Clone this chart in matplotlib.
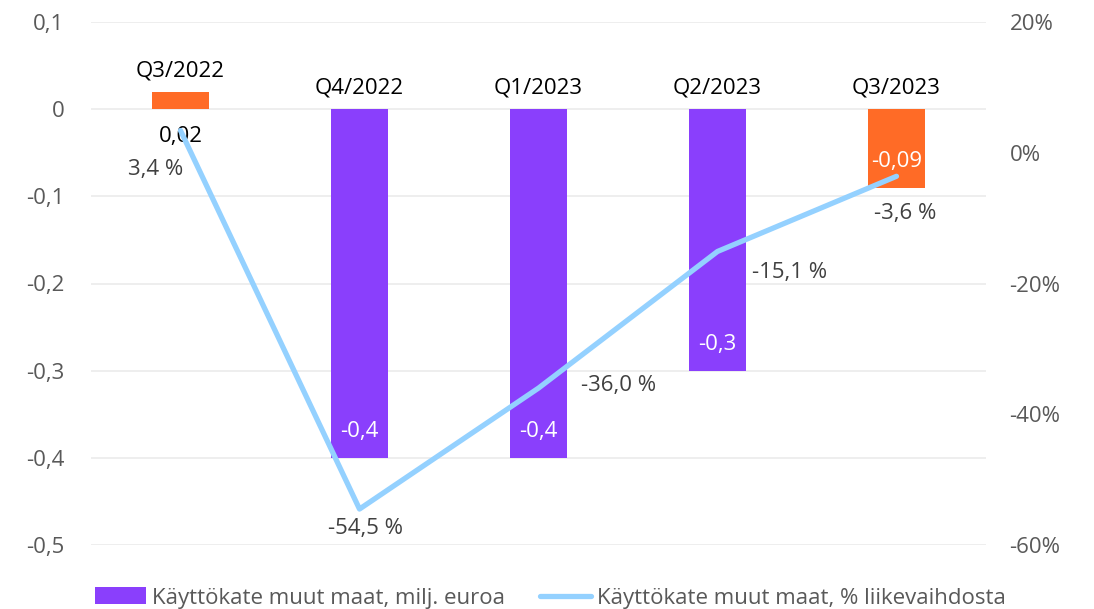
import matplotlib
matplotlib.use("Agg")
import matplotlib.pyplot as plt
from matplotlib.patches import Patch
from matplotlib.lines import Line2D
import numpy as np

categories = ["Q3/2022", "Q4/2022", "Q1/2023", "Q2/2023", "Q3/2023"]
ebitda_meur = [0.02, -0.4, -0.4, -0.3, -0.09]
ebitda_labels = ["0,02", "-0,4", "-0,4", "-0,3", "-0,09"]
ebitda_pct = [3.4, -54.5, -36.0, -15.1, -3.6]
pct_labels = ["3,4 %", "-54,5 %", "-36,0 %", "-15,1 %", "-3,6 %"]
bar_colors = ["#FF6B26", "#8A3FFC", "#8A3FFC", "#8A3FFC", "#FF6B26"]
left_ticks = [0.1, 0, -0.1, -0.2, -0.3, -0.4, -0.5]
left_ticklabels = ["0,1", "0", "-0,1", "-0,2", "-0,3", "-0,4", "-0,5"]
right_ticks = [20, 0, -20, -40, -60]
right_ticklabels = ["20%", "0%", "-20%", "-40%", "-60%"]
legend_labels = ["Käyttökate muut maat, milj. euroa", "Käyttökate muut maat, % liikevaihdosta"]

plt.rcParams['font.family'] = ['Open Sans', 'DejaVu Sans']
LINE_COLOR = "#94D1FF"
TICK_COLOR = "#595959"
FS = 16

fig = plt.figure(figsize=(10.94, 6.09), dpi=100)
ax = fig.add_axes([91/1094, 1 - 545/609, (986 - 91)/1094, (545 - 22)/609])
x = np.arange(len(categories))
ax.bar(x, ebitda_meur, width=0.315, color=bar_colors, zorder=2)
ax.set_ylim(-0.5, 0.1)
ax.set_xlim(-0.5, len(categories) - 0.5)
ax.set_yticks(left_ticks)
ax.set_yticklabels(left_ticklabels)
ax.set_xticks([])
ax.tick_params(axis='y', length=0, labelsize=FS, labelcolor=TICK_COLOR, pad=19)
ax.grid(axis='y', color="#EBEBEB", linewidth=1.2, zorder=0)
ax.set_axisbelow(True)
for s in ax.spines.values():
    s.set_visible(False)

# category labels above the zero line / bar
for i, (c, v) in enumerate(zip(categories, ebitda_meur)):
    ax.annotate(c, (i, max(v, 0)), xytext=(0, 15 if v > 0 else 15), textcoords='offset points',
                ha='center', va='center', fontsize=FS, color='black')

# bar value labels
for i, (v, lab) in enumerate(zip(ebitda_meur, ebitda_labels)):
    if v > 0:
        ax.annotate(lab, (i, 0), xytext=(0, -20), textcoords='offset points',
                    ha='center', va='center', fontsize=FS, color='black', zorder=5)
    else:
        ax.annotate(lab, (i, v), xytext=(0, 19), textcoords='offset points',
                    ha='center', va='center', fontsize=FS, color='white', zorder=5)

ax2 = ax.twinx()
ax2.set_ylim(-60, 20)
ax2.plot(x, ebitda_pct, color=LINE_COLOR, linewidth=3.8, solid_capstyle='round', zorder=3)
ax2.set_yticks(right_ticks)
ax2.set_yticklabels(right_ticklabels)
ax2.tick_params(axis='y', length=0, labelsize=FS, labelcolor=TICK_COLOR, pad=17)
for s in ax2.spines.values():
    s.set_visible(False)

offsets = [(-18, -28), (4, -14), (58, 2), (52, -15), (6, -27)]
for i, (v, lab) in enumerate(zip(ebitda_pct, pct_labels)):
    ax2.annotate(lab, (i, v), xytext=offsets[i], textcoords='offset points',
                 ha='center', va='center', fontsize=FS, color="#404040")

handles = [Patch(facecolor="#8A3FFC"), Line2D([0], [0], color=LINE_COLOR, linewidth=3.8, solid_capstyle='round')]
fig.legend(handles, legend_labels, loc='center', bbox_to_anchor=(0.503, 1 - 598/609), ncol=2,
           frameon=False, fontsize=FS, labelcolor=TICK_COLOR, handlelength=2.3, handleheight=0.8,
           handletextpad=0.25, columnspacing=1.6)

fig.savefig("out.png", dpi=100)
